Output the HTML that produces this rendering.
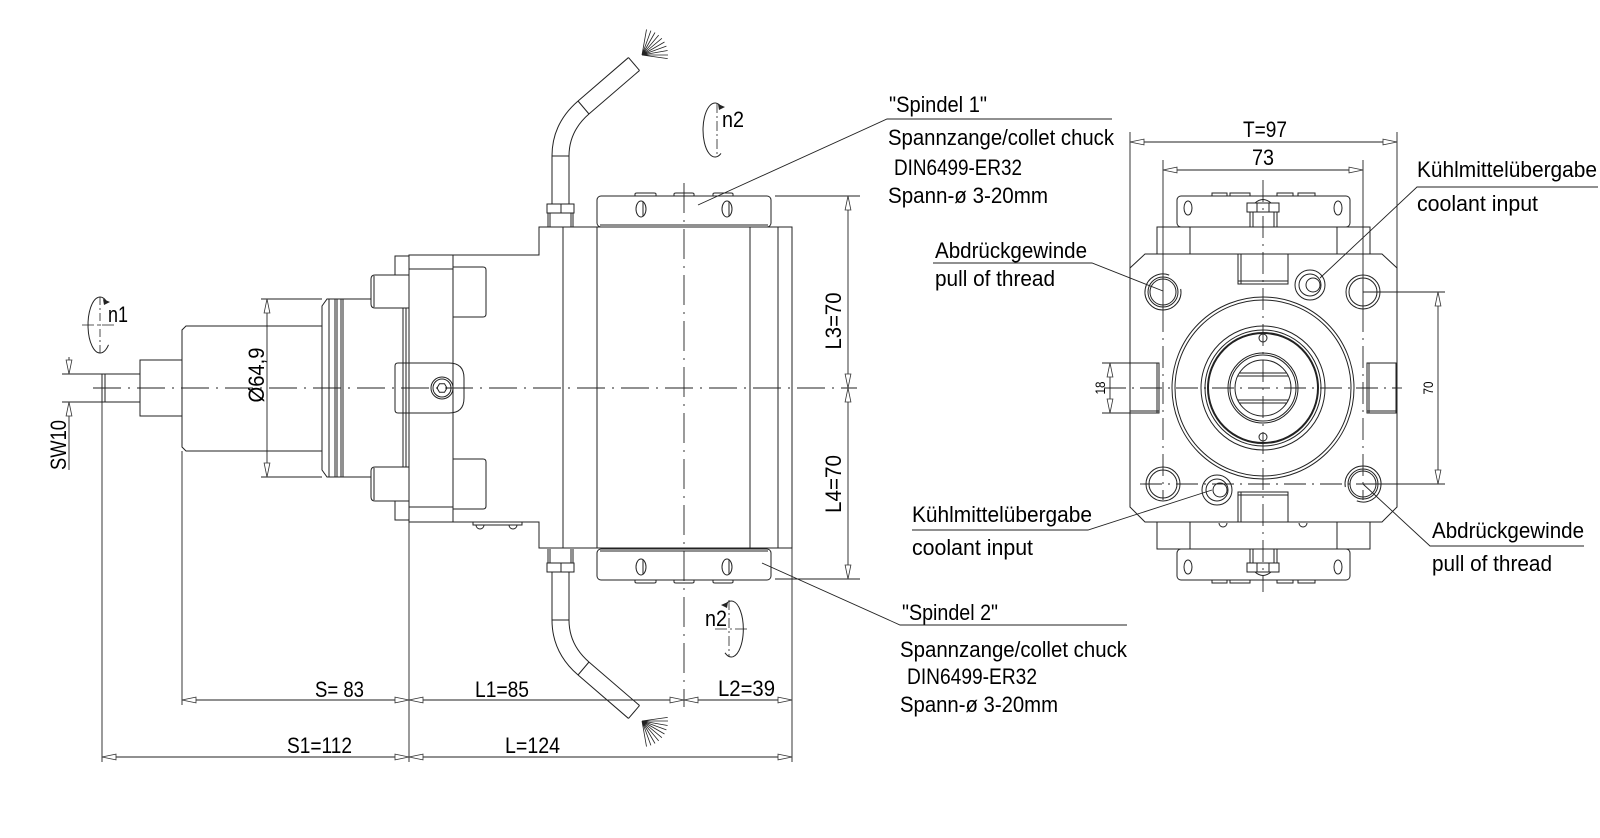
<!DOCTYPE html>
<html><head><meta charset="utf-8"><style>html,body{margin:0;padding:0;background:#fff}svg{display:block}</style></head>
<body>
<svg width="1600" height="838" viewBox="0 0 1600 838" xmlns="http://www.w3.org/2000/svg">
<defs>
<marker id="ar" viewBox="0 0 15 7" markerWidth="15" markerHeight="7" refX="14.5" refY="3.5" orient="auto-start-reverse" markerUnits="userSpaceOnUse">
<path d="M0.5,0.6 L14.5,3.5 L0.5,6.4 Z" fill="#fff" stroke="#333" stroke-width="0.8"/>
</marker>
</defs>
<rect width="1600" height="838" fill="#fff"/>

<!-- ================= LEFT VIEW ================= -->
<g fill="none" stroke="#222" stroke-width="1">
<path d="M140,374 H102 V402 H140"/>
<path d="M105,374 V402"/>
<rect x="140" y="360" width="42" height="56"/>
<path d="M322,326 H186 L182,330 V447 L186,451 H322"/>
<path d="M322,306 L327,299 H343 V477 H327 L322,470 Z"/>
<path d="M329,299 V477 M335,299 V477 M337,299 V477 M341,299 V477"/>
<path d="M343,299 H371 M343,477 H371"/>
<path d="M409,275 H375 Q371,275 371,279 V304 Q371,308 375,308 H409 M374,276 V307"/>
<path d="M409,467 H375 Q371,467 371,471 V497 Q371,501 375,501 H409 M374,468 V500"/>
<path d="M409,256 H395 V275 M409,520 H395 V501 M403,308 V467 M406,308 V467"/>
<rect x="409" y="255" width="44" height="267"/>
<path d="M409,269 H453 M409,507 H453"/>
<path d="M453,267 H483 Q486,267 486,270 V314 Q486,317 483,317 H453"/>
<path d="M453,459 H483 Q486,459 486,462 V506 Q486,509 483,509 H453"/>
<path d="M398,363 H449 Q464,363 464,378 V398 Q464,413 449,413 H398 Q395,413 395,410 V366 Q395,363 398,363 Z"/>
<circle cx="442" cy="388" r="11"/>
<circle cx="442" cy="388" r="9"/>
<polygon points="447,388 444.5,392.3 439.5,392.3 437,388 439.5,383.7 444.5,383.7"/>
<path d="M453,255 H539 V227 H792 V548 H539 V522 H453"/>
<path d="M563,227 V548 M597,227 V548 M750,227 V548 M778,227 V548"/>
<path d="M473,522 V525 H522 V522 M476,525 A4,4 0 0 0 484,525 M509,525 A4,4 0 0 0 517,525"/>
<rect x="597" y="196" width="174" height="31" rx="4" fill="#fff"/>
<path d="M600,225 H768"/>
<ellipse cx="641" cy="209" rx="5" ry="8"/><path d="M643,201.5 V216.5"/>
<ellipse cx="727" cy="209" rx="5" ry="8"/><path d="M729,201.5 V216.5"/>
<path d="M635,196 V194 Q635,193 637,193 H654 Q656,193 656,194 V196 M674,196 V194 Q674,193 676,193 H692 Q694,193 694,194 V196 M713,196 V194 Q713,193 715,193 H731 Q733,193 733,194 V196"/>
<rect x="597" y="549" width="174" height="31" rx="4" fill="#fff"/>
<path d="M600,551 H768"/>
<ellipse cx="641" cy="567" rx="5" ry="8"/><path d="M643,559.5 V574.5"/>
<ellipse cx="727" cy="567" rx="5" ry="8"/><path d="M729,559.5 V574.5"/>
<path d="M635,580 V582 Q635,583 637,583 H654 Q656,583 656,582 V580 M674,580 V582 Q674,583 676,583 H692 Q694,583 694,582 V580 M713,580 V582 Q713,583 715,583 H731 Q733,583 733,582 V580"/>

<path d="M560.5,204 V156 Q560.5,127.4 583.5,107.5 L634,64" stroke="#222" stroke-width="18"/>
<path d="M560.5,205 V156 Q560.5,127.4 583.5,107.5 L634,64" stroke="#fff" stroke-width="16"/>
<path d="M628.5,57.6 L639.5,70.4 M552,156 H569 M578,101 L589,114"/>
<path d="M560.5,572 V620 Q560.5,648.6 583.5,668.5 L634,712" stroke="#222" stroke-width="18"/>
<path d="M560.5,571 V620 Q560.5,648.6 583.5,668.5 L634,712" stroke="#fff" stroke-width="16"/>
<path d="M628.5,718.4 L639.5,705.6 M552,620 H569 M578,675 L589,662"/>
<rect x="547" y="204" width="27" height="9" fill="#fff"/>
<path d="M561,204 V213 M548,213 V227 M550,213 V227 M571,213 V227 M573,213 V227"/>
<rect x="547" y="563" width="27" height="9" fill="#fff"/>
<path d="M561,563 V572 M548,549 V563 M550,549 V563 M571,549 V563 M573,549 V563"/>
<path stroke-width="0.8" d="M642,55 L646.5,29.4 M642,55 L650.9,30.6 M642,55 L655,32.5 M642,55 L658.7,35.1 M642,55 L661.9,38.3 M642,55 L664.5,42 M642,55 L666.4,46.1 M642,55 L667.6,50.5 M642,55 L668,55 M642,55 L667.7,58.6"/>
<path stroke-width="0.8" d="M642,721 L646.5,746.6 M642,721 L650.9,745.4 M642,721 L655,743.5 M642,721 L658.7,740.9 M642,721 L661.9,737.7 M642,721 L664.5,734 M642,721 L666.4,729.9 M642,721 L667.6,725.5 M642,721 L668,721 M642,721 L667.7,717.4"/>

<path d="M93,388 H857" stroke-dasharray="28 7 2 7"/>
<path d="M684,183 V707" stroke-dasharray="30 7 2 7" stroke-width="0.9"/>

<path d="M106.9,302.1 A12,28 0 1 0 108.5,344.8"/>
<path d="M103,299 L110,302 L104,305 Z" fill="#222" stroke="none"/>
<path d="M100,297 V353" stroke-dasharray="8 3 2 3" stroke-width="0.8"/>
<path d="M82,325 H117" stroke-dasharray="12 3 2 3" stroke-width="0.8"/>
<path d="M721,106.6 A12,27 0 1 0 721,153.4"/>
<path d="M718,104 L725,107 L719,110 Z" fill="#222" stroke="none"/>
<path d="M717,103 V157" stroke-dasharray="10 3 2 3" stroke-width="0.8"/>
<path d="M725,605.2 A12,28 0 1 1 725,652.8"/>
<path d="M728,602 L721,605 L727,608 Z" fill="#222" stroke="none"/>
<path d="M729,600 V657" stroke-dasharray="10 3 2 3" stroke-width="0.8"/>
<path d="M715,629 H748" stroke-dasharray="12 3 2 3" stroke-width="0.8"/>

<path d="M775,196 H860 M775,579 H860" stroke-width="0.9"/>
<path d="M848,196 V388" stroke-width="0.9" marker-start="url(#ar)" marker-end="url(#ar)"/>
<path d="M848,388 V579" stroke-width="0.9" marker-start="url(#ar)" marker-end="url(#ar)"/>
<path d="M261,299 H322 M261,477 H322" stroke-width="0.9"/>
<path d="M267,299 V477" stroke-width="0.9" marker-start="url(#ar)" marker-end="url(#ar)"/>
<path d="M62,374 H102 M62,402 H102" stroke-width="0.9"/>
<path d="M69,357 V374" stroke-width="0.9" marker-end="url(#ar)"/>
<path d="M69,402 V470" stroke-width="0.9" marker-start="url(#ar)"/>
<path d="M102,402 V762 M182,451 V705 M409,522 V762 M792,548 V762" stroke-width="0.9"/>
<path d="M182,700 H409" stroke-width="0.9" marker-start="url(#ar)" marker-end="url(#ar)"/>
<path d="M409,700 H684" stroke-width="0.9" marker-start="url(#ar)" marker-end="url(#ar)"/>
<path d="M684,700 H792" stroke-width="0.9" marker-start="url(#ar)" marker-end="url(#ar)"/>
<path d="M102,757 H409" stroke-width="0.9" marker-start="url(#ar)" marker-end="url(#ar)"/>
<path d="M409,757 H792" stroke-width="0.9" marker-start="url(#ar)" marker-end="url(#ar)"/>

<path d="M698,205 L887,119 H1112" stroke-width="0.9"/>
<path d="M762,563 L900,625 H1127" stroke-width="0.9"/>
</g>

<!-- ================= RIGHT VIEW ================= -->
<g fill="none" stroke="#222" stroke-width="1">
<path d="M1145,254 H1382 L1397,268 V507 L1382,522 H1145 L1130,507 V268 Z"/>
<rect x="1157" y="227" width="213" height="27"/>
<path d="M1190,227 V254 M1337,227 V254"/>
<rect x="1177" y="196" width="173" height="31" rx="4" fill="#fff"/>
<ellipse cx="1188" cy="208" rx="4" ry="7"/>
<ellipse cx="1338" cy="208" rx="4" ry="7"/>
<path d="M1212,196 V193 H1227 V196 M1230,196 V193 H1250 V196 M1277,196 V193 H1293 V196 M1298,196 V193 H1315 V196"/>
<rect x="1250" y="212" width="27" height="15" fill="#fff"/>
<path d="M1253,212 V227 M1274,212 V227"/>
<rect x="1247" y="203" width="32" height="9" fill="#fff"/>
<path d="M1257,203 V212 M1269,203 V212 M1255,203 Q1263,196 1271,203"/>
<rect x="1238" y="254" width="50" height="30"/>
<path d="M1241,254 V284 M1238,281 H1288"/>
<rect x="1157" y="522" width="213" height="27"/>
<path d="M1190,522 V549 M1337,522 V549"/>
<rect x="1177" y="549" width="173" height="31" rx="4" fill="#fff"/>
<ellipse cx="1188" cy="567" rx="4" ry="7"/>
<ellipse cx="1338" cy="567" rx="4" ry="7"/>
<path d="M1212,580 V583 H1227 V580 M1230,580 V583 H1250 V580 M1277,580 V583 H1293 V580 M1298,580 V583 H1315 V580"/>
<rect x="1250" y="549" width="27" height="14" fill="#fff"/>
<path d="M1253,549 V563 M1274,549 V563"/>
<rect x="1247" y="563" width="32" height="9" fill="#fff"/>
<path d="M1257,563 V572 M1269,563 V572 M1255,572 Q1263,579 1271,572"/>
<rect x="1238" y="492" width="50" height="30"/>
<path d="M1241,492 V522 M1238,495 H1288"/>
<path d="M1219,523 A4,4 0 0 0 1227,523 M1299,523 A4,4 0 0 0 1307,523"/>
<rect x="1130" y="363" width="29" height="50"/>
<path d="M1157,363 V413 M1130,411 H1159"/>
<rect x="1367" y="363" width="29" height="50"/>
<path d="M1369,363 V413 M1367,411 H1396"/>
<circle cx="1263" cy="388" r="91"/>
<circle cx="1263" cy="388" r="88"/>
<circle cx="1263" cy="388" r="62"/>
<circle cx="1263" cy="388" r="58"/>
<circle cx="1263" cy="388" r="55" stroke-width="2"/>
<circle cx="1263" cy="388" r="35"/>
<circle cx="1263" cy="388" r="33"/>
<circle cx="1263" cy="388" r="28"/>
<circle cx="1263" cy="338" r="4"/>
<circle cx="1263" cy="437" r="4"/>
<path d="M1239,373 H1287 M1238,376 H1288 M1238,400 H1288 M1239,403 H1287"/>
<circle cx="1163" cy="292" r="15"/>
<circle cx="1163" cy="292" r="13"/>
<path d="M1169.2,275.1 A18,18 0 1 0 1180.7,288.9"/>
<circle cx="1363" cy="292" r="17"/>
<circle cx="1363" cy="292" r="14"/>
<circle cx="1163" cy="484" r="17"/>
<circle cx="1163" cy="484" r="14"/>
<circle cx="1363" cy="484" r="15"/>
<circle cx="1363" cy="484" r="13"/>
<path d="M1356.8,500.9 A18,18 0 1 0 1345.3,487.1"/>
<circle cx="1310" cy="285" r="15"/>
<circle cx="1310" cy="285" r="11"/>
<circle cx="1313" cy="285" r="7"/>
<circle cx="1217" cy="490" r="15"/>
<circle cx="1217" cy="490" r="11"/>
<circle cx="1220" cy="490" r="7"/>
<path d="M1263,180 V592" stroke-dasharray="22 6 2 6" stroke-width="0.9"/>
<path d="M1104,388 H1402" stroke-dasharray="22 6 2 6" stroke-width="0.9"/>
<path d="M1140,484 H1400" stroke-dasharray="22 6 2 6" stroke-width="0.9"/>
<path d="M1163,160 V310 M1363,160 V310" stroke-width="0.9"/>
<path d="M1163,310 V500 M1363,310 V500" stroke-dasharray="22 6 2 6" stroke-width="0.9"/>
<path d="M1130,132 V268 M1397,132 V268" stroke-width="0.9"/>
<path d="M1130,142 H1397" stroke-width="0.9" marker-start="url(#ar)" marker-end="url(#ar)"/>
<path d="M1163,170 H1363" stroke-width="0.9" marker-start="url(#ar)" marker-end="url(#ar)"/>
<path d="M1102,363 H1130 M1102,413 H1130" stroke-width="0.9"/>
<path d="M1110,363 V413" stroke-width="0.9" marker-start="url(#ar)" marker-end="url(#ar)"/>
<path d="M1363,292 H1445 M1363,484 H1445" stroke-width="0.9"/>
<path d="M1438,292 V484" stroke-width="0.9" marker-start="url(#ar)" marker-end="url(#ar)"/>
<path d="M1212,490 L1088,530 H912" stroke-width="0.9"/>
<path d="M1320,278 L1417,187 H1598" stroke-width="0.9"/>
<path d="M1163,291 L1092,263 H933" stroke-width="0.9"/>
<path d="M1363,484 L1430,546 H1584" stroke-width="0.9"/>
</g>

<!-- ================= TEXT ================= -->
<g font-family="'Liberation Sans',sans-serif" font-size="22.5" fill="#000">
<text x="108" y="322" textLength="20" lengthAdjust="spacingAndGlyphs">n1</text>
<text x="722" y="127" textLength="22" lengthAdjust="spacingAndGlyphs">n2</text>
<text x="705" y="626" textLength="22" lengthAdjust="spacingAndGlyphs">n2</text>
<text transform="translate(66,445) rotate(-90)" text-anchor="middle" textLength="50" lengthAdjust="spacingAndGlyphs">SW10</text>
<text transform="translate(264,375) rotate(-90)" text-anchor="middle" textLength="55" lengthAdjust="spacingAndGlyphs">Ø64,9</text>
<text transform="translate(841,321) rotate(-90)" text-anchor="middle" textLength="57" lengthAdjust="spacingAndGlyphs">L3=70</text>
<text transform="translate(841,484) rotate(-90)" text-anchor="middle" textLength="58" lengthAdjust="spacingAndGlyphs">L4=70</text>
<text x="315" y="697" textLength="49" lengthAdjust="spacingAndGlyphs">S= 83</text>
<text x="475" y="697" textLength="54" lengthAdjust="spacingAndGlyphs">L1=85</text>
<text x="718" y="696" textLength="57" lengthAdjust="spacingAndGlyphs">L2=39</text>
<text x="287" y="753" textLength="65" lengthAdjust="spacingAndGlyphs">S1=112</text>
<text x="505" y="753" textLength="55" lengthAdjust="spacingAndGlyphs">L=124</text>

<text x="889" y="112" textLength="98" lengthAdjust="spacingAndGlyphs">"Spindel 1"</text>
<text x="888" y="145" textLength="226" lengthAdjust="spacingAndGlyphs">Spannzange/collet chuck</text>
<text x="894" y="175" textLength="128" lengthAdjust="spacingAndGlyphs">DIN6499-ER32</text>
<text x="888" y="203" textLength="160" lengthAdjust="spacingAndGlyphs">Spann-ø 3-20mm</text>

<text x="902" y="620" textLength="96" lengthAdjust="spacingAndGlyphs">"Spindel 2"</text>
<text x="900" y="657" textLength="227" lengthAdjust="spacingAndGlyphs">Spannzange/collet chuck</text>
<text x="907" y="684" textLength="130" lengthAdjust="spacingAndGlyphs">DIN6499-ER32</text>
<text x="900" y="712" textLength="158" lengthAdjust="spacingAndGlyphs">Spann-ø 3-20mm</text>

<text x="912" y="522" textLength="180" lengthAdjust="spacingAndGlyphs">Kühlmittelübergabe</text>
<text x="912" y="555" textLength="121" lengthAdjust="spacingAndGlyphs">coolant input</text>
<text x="1417" y="177" textLength="180" lengthAdjust="spacingAndGlyphs">Kühlmittelübergabe</text>
<text x="1417" y="211" textLength="121" lengthAdjust="spacingAndGlyphs">coolant input</text>
<text x="935" y="258" textLength="152" lengthAdjust="spacingAndGlyphs">Abdrückgewinde</text>
<text x="935" y="286" textLength="120" lengthAdjust="spacingAndGlyphs">pull of thread</text>
<text x="1432" y="538" textLength="152" lengthAdjust="spacingAndGlyphs">Abdrückgewinde</text>
<text x="1432" y="571" textLength="120" lengthAdjust="spacingAndGlyphs">pull of thread</text>

<text x="1265" y="137" text-anchor="middle" textLength="44" lengthAdjust="spacingAndGlyphs">T=97</text>
<text x="1263" y="165" text-anchor="middle" textLength="22" lengthAdjust="spacingAndGlyphs">73</text>
<text transform="translate(1105,388) rotate(-90)" text-anchor="middle" font-size="14" textLength="13" lengthAdjust="spacingAndGlyphs">18</text>
<text transform="translate(1433,388) rotate(-90)" text-anchor="middle" font-size="14" textLength="13" lengthAdjust="spacingAndGlyphs">70</text>
</g>
</svg>
</body></html>
